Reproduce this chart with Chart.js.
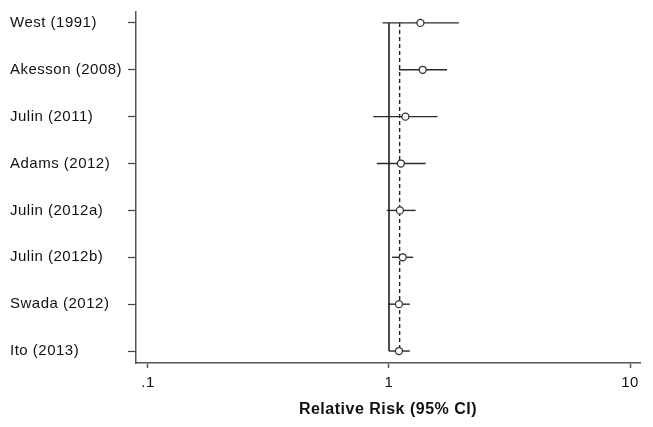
<!DOCTYPE html>
<html>
<head>
<meta charset="utf-8">
<script src="https://cdn.jsdelivr.net/npm/chart.js@4.4.1/dist/chart.umd.min.js"></script>
<style>
html,body{margin:0;padding:0;background:#fff;}
#c{display:block;}
</style>
</head>
<body>
<canvas id="c" width="653" height="427"></canvas>
<script>
// Data
const studies = ["West (1991)", "Akesson (2008)", "Julin (2011)", "Adams (2012)", "Julin (2012a)", "Julin (2012b)", "Swada (2012)", "Ito (2013)"];
const rr      = [1.35, 1.38, 1.17, 1.12, 1.11, 1.14, 1.10, 1.10];
const lower   = [0.94, 1.10, 0.86, 0.89, 0.98, 1.03, 0.99, 1.00];
const upper   = [1.95, 1.74, 1.59, 1.42, 1.29, 1.26, 1.22, 1.22];
const pooled  = 1.107;
const nullValue = 1;
const xTicks = [0.1, 1, 10];
const xTickLabels = [".1", "1", "10"];
const axisTitle = "Relative Risk (95% CI)";

const ink = "#2b2b2b";
const datasets = [];

datasets.push({
  label: "RR",
  data: rr.map((v, i) => ({x: v, y: i})),
  showLine: false,
  pointStyle: "circle",
  pointRadius: 3.5,
  pointBorderWidth: 1.3,
  pointBorderColor: "#333",
  pointBackgroundColor: "#fff",
  order: 0
});

studies.forEach((s, i) => {
  datasets.push({
    label: s + " CI",
    data: [{x: lower[i], y: i}, {x: upper[i], y: i}],
    showLine: true,
    borderColor: ink,
    borderWidth: 1.4,
    pointRadius: 0,
    order: 2
  });
});

datasets.push({
  label: "null",
  data: [{x: nullValue, y: 0}, {x: nullValue, y: studies.length - 1}],
  showLine: true,
  borderColor: "#222",
  borderWidth: 1.6,
  pointRadius: 0,
  order: 1
});
datasets.push({
  label: "pooled",
  data: [{x: pooled, y: 0}, {x: pooled, y: studies.length - 1}],
  showLine: true,
  borderColor: "#222",
  borderWidth: 1.4,
  borderDash: [4, 3],
  pointRadius: 0,
  order: 1
});

const spacing = {
  id: "spacing",
  beforeDraw(chart) { chart.ctx.letterSpacing = "0.5px"; }
};

new Chart(document.getElementById("c"), {
  type: "scatter",
  data: {datasets},
  plugins: [spacing],
  options: {
    responsive: false,
    animation: false,
    layout: {padding: {left: 10, right: 13, top: 10, bottom: 0}},
    plugins: {legend: {display: false}, tooltip: {enabled: false}},
    scales: {
      x: {
        type: "logarithmic",
        position: "bottom",
        bounds: "data",
        min: 0.0892,
        max: 11.0,
        afterBuildTicks: (sc) => { sc.ticks = xTicks.map(v => ({value: v})); },
        afterFit: (sc) => { sc.height = 64; },
        grid: {drawOnChartArea: false, drawTicks: true, tickLength: 5, tickColor: "#555", tickWidth: 1.5},
        border: {display: true, color: "#555", width: 1.5},
        ticks: {
          autoSkip: false,
          maxRotation: 0,
          padding: 6,
          color: "#111",
          font: {family: "'Liberation Sans', Arial, sans-serif", size: 15},
          callback: (v) => { const k = xTicks.indexOf(v); return k >= 0 ? xTickLabels[k] : ""; }
        },
        title: {
          display: true,
          text: axisTitle,
          color: "#111",
          font: {family: "'Liberation Sans', Arial, sans-serif", size: 16, weight: "bold", lineHeight: 1.2},
          padding: {top: 0, bottom: 8}
        }
      },
      y: {
        type: "linear",
        reverse: true,
        bounds: "data",
        min: -0.233,
        max: 7.255,
        afterBuildTicks: (sc) => { sc.ticks = studies.map((_, i) => ({value: i})); },
        afterFit: (sc) => { sc.width = 126; },
        grid: {drawOnChartArea: false, drawTicks: true, tickLength: 8, tickColor: "#444", tickWidth: 1.2},
        border: {display: true, color: "#555", width: 1.5},
        ticks: {
          autoSkip: false,
          crossAlign: "far",
          color: "#111",
          font: {family: "'Liberation Sans', Arial, sans-serif", size: 15},
          callback: (v) => studies[v] !== undefined ? studies[v] : ""
        }
      }
    }
  }
});
</script>
</body>
</html>
